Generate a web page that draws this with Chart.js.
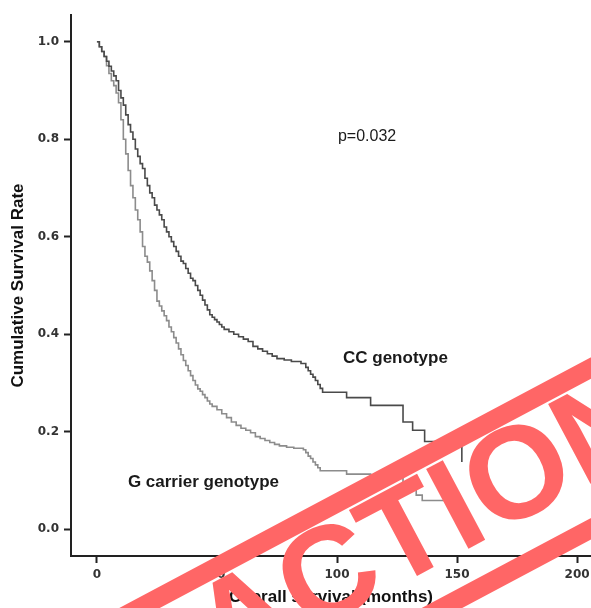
<!DOCTYPE html>
<html><head><meta charset="utf-8">
<script src="https://cdn.jsdelivr.net/npm/chart.js@4.4.1/dist/chart.umd.min.js"></script>
<style>html,body{margin:0;padding:0;background:#fff;}#wrap{width:591px;height:608px;}</style>
</head><body><div id="wrap"><canvas id="c" width="591" height="608"></canvas></div>
<script>
// Kaplan-Meier curves (time in months, cumulative survival)
const ccTime = [0,1,2,3,4,5,6,7,8,9,10,11,12,13,14,15,16,17,18,19,20,21,22,23,24,25,26,27,28,29,30,31,32,33,34,35,36,37,38,39,40,41,42,43,44,45,46,47,48,49,50,51,52,53,55,57,59,61,63,65,67,69,71,73,75,78,81,85,87,88,89,90,91,92,93,94,104,114,127.5,131.5,136.5,152];
const ccSurv = [1.0,0.99,0.98,0.97,0.96,0.95,0.94,0.93,0.92,0.90,0.885,0.87,0.85,0.83,0.815,0.80,0.78,0.765,0.75,0.74,0.72,0.705,0.69,0.68,0.665,0.655,0.645,0.635,0.62,0.61,0.60,0.59,0.58,0.57,0.56,0.55,0.545,0.535,0.525,0.515,0.51,0.50,0.49,0.48,0.47,0.46,0.45,0.44,0.435,0.43,0.425,0.42,0.415,0.41,0.405,0.40,0.395,0.39,0.385,0.375,0.37,0.365,0.36,0.355,0.35,0.347,0.344,0.34,0.332,0.325,0.318,0.312,0.305,0.297,0.289,0.281,0.27,0.254,0.22,0.203,0.18,0.138];
const gTime = [0,1,2,3,4,5,6,7,8,9,10,11,12,13,14,15,16,17,18,19,20,21,22,23,24,25,26,27,28,29,30,31,32,33,34,35,36,37,38,39,40,41,42,43,44,45,46,47,48,50,52,54,56,58,60,62,64,66,68,70,72,74,76,79,82,86,87,88,89,90,91,92,93,104,114,127.5,133,135.5,152];
const gSurv = [1.0,0.99,0.98,0.97,0.951,0.935,0.92,0.91,0.895,0.875,0.84,0.80,0.77,0.736,0.705,0.68,0.655,0.635,0.61,0.58,0.56,0.548,0.53,0.51,0.49,0.468,0.458,0.448,0.438,0.428,0.415,0.405,0.393,0.382,0.37,0.358,0.346,0.336,0.325,0.315,0.305,0.296,0.288,0.283,0.276,0.27,0.263,0.257,0.252,0.245,0.237,0.229,0.22,0.213,0.207,0.203,0.198,0.19,0.186,0.182,0.178,0.174,0.171,0.168,0.166,0.163,0.157,0.15,0.145,0.138,0.132,0.126,0.12,0.113,0.104,0.08,0.07,0.059,0.035];
const seriesNames = ['CC genotype', 'G carrier genotype'];
const xTicks = [0, 50, 100, 150, 200];
const yTicks = [0.0, 0.2, 0.4, 0.6, 0.8, 1.0];
const xTitle = 'Overall survival (months)';
const yTitle = 'Cumulative Survival Rate';
const pValueText = 'p=0.032';
const stampText = 'RETRACTION';

// text labels placed in data coordinates
const notes = [
  {text: pValueText, x: 100.4, y: 0.796, font: '16px "Liberation Sans", Arial, sans-serif'},
  {text: seriesNames[0], x: 102.5, y: 0.342, font: 'bold 17px "Liberation Sans", Arial, sans-serif'},
  {text: seriesNames[1], x: 12.9, y: 0.087, font: 'bold 17px "Liberation Sans", Arial, sans-serif'}
];

const notesPlugin = {
  id: 'notes',
  afterDatasetsDraw(chart) {
    const c = chart.ctx, xs = chart.scales.x, ys = chart.scales.y;
    c.save();
    c.fillStyle = '#1a1a1a';
    c.textAlign = 'left';
    c.textBaseline = 'alphabetic';
    notes.forEach(n => { c.font = n.font; c.fillText(n.text, xs.getPixelForValue(n.x), ys.getPixelForValue(n.y)); });
    c.restore();
  }
};

const stampPlugin = {
  id: 'stamp',
  afterDraw(chart) {
    const c = chart.ctx;
    c.save();
    c.translate(255, 627);
    c.rotate(-28 * Math.PI / 180);
    c.fillStyle = '#ff6666';
    c.strokeStyle = '#ff6666';
    c.lineWidth = 19;
    c.strokeRect(-480, -71, 960, 142);
    c.font = 'bold 131px "Liberation Sans", Arial, sans-serif';
    c.textAlign = 'center';
    c.textBaseline = 'alphabetic';
    c.fillText(stampText, 20, 31);
    c.restore();
  }
};

const toPts = (t, s) => t.map((v, i) => ({x: v, y: s[i]}));
const tickFont = {family: 'DejaVu Sans', weight: 'bold', size: 12};
const titleFont = {family: 'Liberation Sans', weight: 'bold', size: 17};

new Chart(document.getElementById('c'), {
  type: 'line',
  data: {
    datasets: [
      {label: seriesNames[0], data: toPts(ccTime, ccSurv), stepped: true, borderColor: '#4a4a4a', borderWidth: 1.6, pointRadius: 0, fill: false},
      {label: seriesNames[1], data: toPts(gTime, gSurv), stepped: true, borderColor: '#8c8c8c', borderWidth: 1.6, pointRadius: 0, fill: false}
    ]
  },
  options: {
    responsive: false,
    animation: false,
    layout: {padding: {top: 15, left: 0, right: 0, bottom: 0}},
    plugins: {legend: {display: false}, tooltip: {enabled: false}},
    scales: {
      x: {
        type: 'linear', min: -10.8, max: 205.8,
        afterBuildTicks: s => { s.ticks = xTicks.map(v => ({value: v})); },
        afterFit: s => { s.height = 52; s.paddingLeft = 0; s.paddingRight = 0; },
        grid: {drawOnChartArea: false, drawTicks: true, tickLength: 7, tickWidth: 2, tickColor: '#222'},
        border: {display: true, color: '#222', width: 2},
        ticks: {font: tickFont, color: '#333', padding: 5, maxRotation: 0, autoSkip: false, callback: v => String(v)},
        title: {display: true, text: xTitle, font: titleFont, color: '#111', padding: {top: 0, bottom: 0}}
      },
      y: {
        type: 'linear', min: -0.055, max: 1.055,
        afterBuildTicks: s => { s.ticks = yTicks.map(v => ({value: v})); },
        afterFit: s => { s.width = 71; s.paddingTop = 0; s.paddingBottom = 0; },
        grid: {drawOnChartArea: false, drawTicks: true, tickLength: 7, tickWidth: 2, tickColor: '#222'},
        border: {display: true, color: '#222', width: 2},
        ticks: {font: tickFont, color: '#333', padding: 5, autoSkip: false, callback: v => Number(v).toFixed(1)},
        title: {display: true, text: yTitle, font: titleFont, color: '#111', padding: {top: 8, bottom: 0}}
      }
    }
  },
  plugins: [notesPlugin, stampPlugin]
});
</script></body></html>
